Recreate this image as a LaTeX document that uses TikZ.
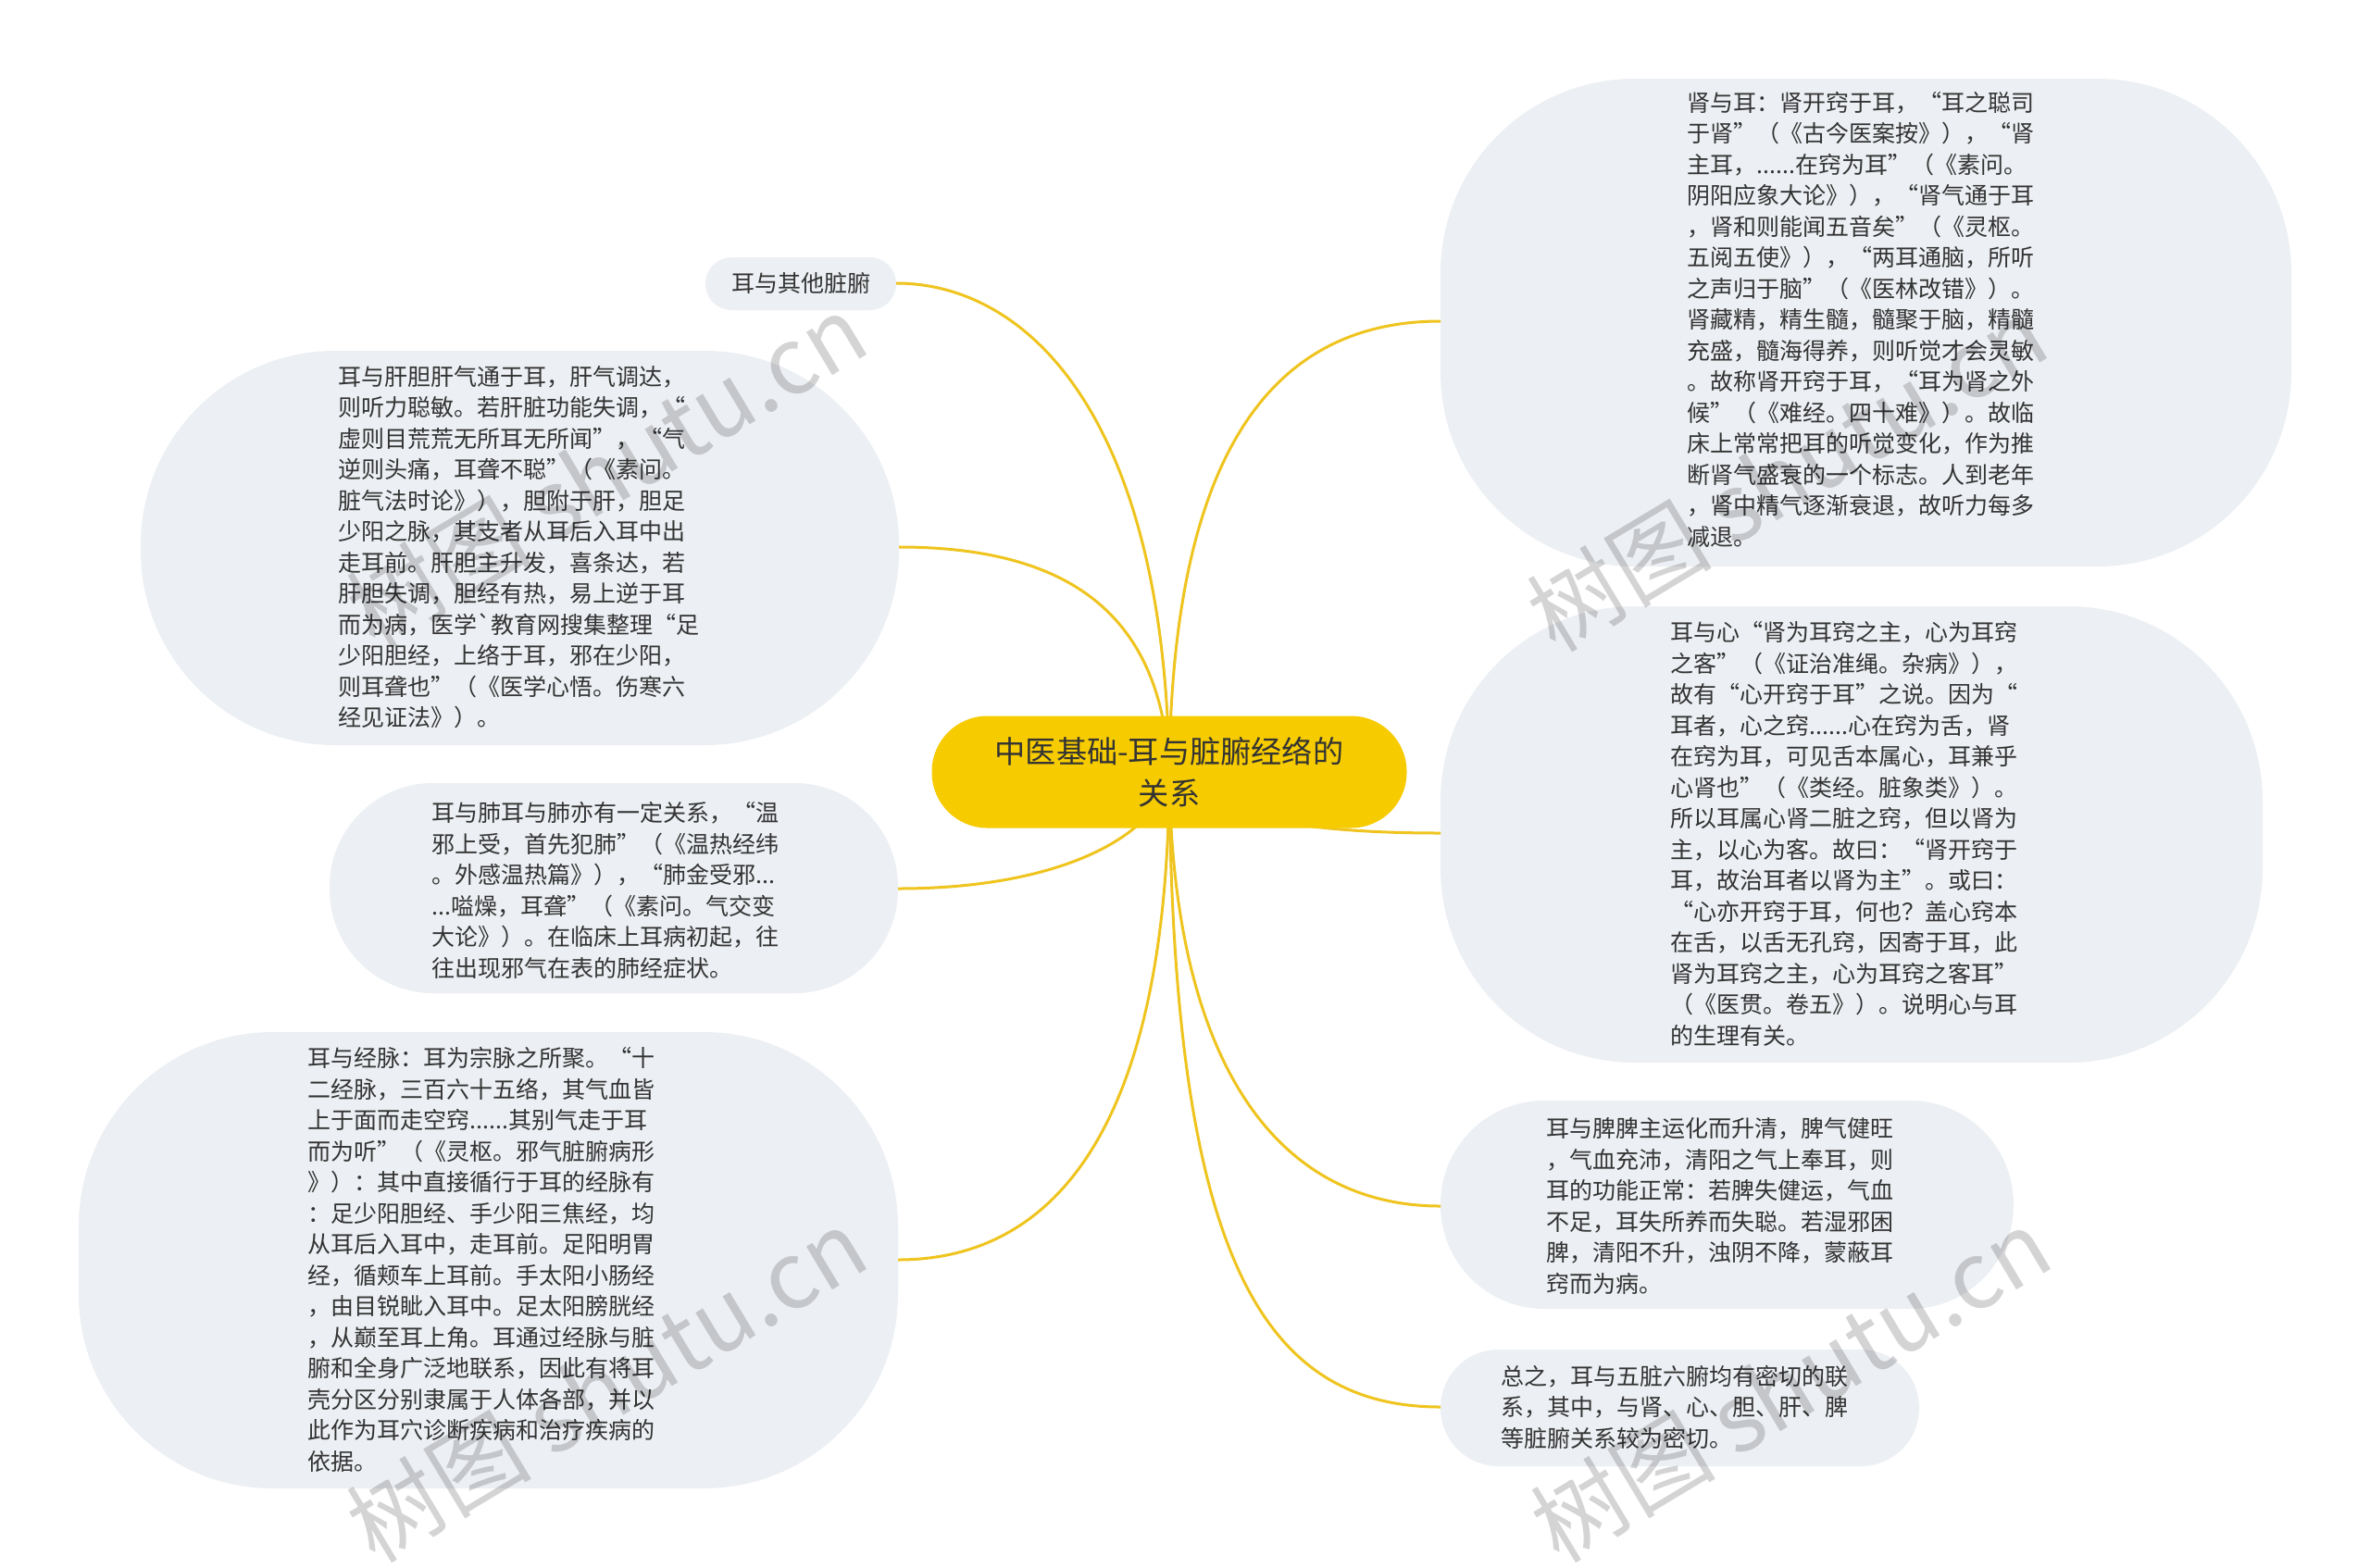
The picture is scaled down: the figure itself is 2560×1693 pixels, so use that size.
\documentclass[tikz,border=0pt]{standalone}
\usepackage{fontspec}
\newfontfamily\cjk{Noto Sans CJK SC}
\definecolor{boxgray}{HTML}{ECEFF3}
\definecolor{rootgold}{HTML}{F6CB00}
\definecolor{linkgold}{HTML}{EFC41E}
\definecolor{txtdark}{HTML}{333333}
\begin{document}
\begin{tikzpicture}[x=0.5pt,y=-0.5pt]
\tikzset{
  link/.style={draw=linkgold, line width=1.5pt},
  leaf/.style={fill=boxgray},
  txt/.style={font=\cjk\fontsize{12.5}{16.75}\selectfont, text=txtdark, align=left, inner sep=0pt, anchor=west},
  rootnode/.style={fill=rootgold, rounded corners=30pt, minimum width=256.5pt, minimum height=60.5pt, align=center, inner sep=0pt, font=\cjk\fontsize{16.6}{22.5}\selectfont, text=txtdark},
  wm/.style={font=\cjk\fontsize{50}{50}\selectfont, text=black, text opacity=0.17, rotate=31, inner sep=0pt}
}
\useasboundingbox (0,0) rectangle (2560,1693);
\fill[white] (0,0) rectangle (2560,1693);

% boxes
\fill[leaf, rounded corners=105pt] (1556,85) rectangle (2475,612);
\fill[leaf, rounded corners=105pt] (1556,655) rectangle (2444,1148);
\fill[leaf, rounded corners=56pt] (1556,1189) rectangle (2175,1414);
\fill[leaf, rounded corners=31.4pt] (1556,1458) rectangle (2073,1584);
\fill[leaf, rounded corners=14.2pt] (762,278) rectangle (968,335);
\fill[leaf, rounded corners=105pt] (152,379) rectangle (971,805);
\fill[leaf, rounded corners=56pt] (356,846) rectangle (970,1073);
\fill[leaf, rounded corners=105pt] (85,1115) rectangle (970,1608);

% connection points on box edges
\coordinate (shen-in) at (1556,347);
\coordinate (xin-in) at (1556,900);
\coordinate (pi-in) at (1556,1303);
\coordinate (zong-in) at (1556,1520);
\coordinate (qita-in) at (968,306);
\coordinate (gan-in) at (971,591);
\coordinate (fei-in) at (970,960);
\coordinate (jing-in) at (970,1361);

\coordinate (rootc) at (1263,834);
\draw[link] (rootc) .. controls (1258,450) and (1110,306) .. (qita-in);
\draw[link] (rootc) .. controls (1255,660) and (1150,591) .. (gan-in);
\draw[link] (rootc) .. controls (1255,900) and (1150,960) .. (fei-in);
\draw[link] (rootc) .. controls (1262,1200) and (1150,1361) .. (jing-in);
\draw[link] (rootc) .. controls (1266,480) and (1380,347) .. (shen-in);
\draw[link] (rootc) .. controls (1300,880) and (1400,900) .. (xin-in);
\draw[link] (rootc) .. controls (1266,1150) and (1380,1303) .. (pi-in);
\draw[link] (rootc) .. controls (1266,1350) and (1360,1520) .. (zong-in);

\node[rootnode] (root) at (1263,834) {中医基础-耳与脏腑经络的\\关系};

\node[txt] (shen) at (1822,345) {肾与耳：肾开窍于耳，“耳之聪司\\
于肾”（《古今医案按》），“肾\\
主耳，......在窍为耳”（《素问。\\
阴阳应象大论》），“肾气通于耳\\
，肾和则能闻五音矣”（《灵枢。\\
五阅五使》），“两耳通脑，所听\\
之声归于脑”（《医林改错》）。\\
肾藏精，精生髓，髓聚于脑，精髓\\
充盛，髓海得养，则听觉才会灵敏\\
。故称肾开窍于耳，“耳为肾之外\\
候”（《难经。四十难》）。故临\\
床上常常把耳的听觉变化，作为推\\
断肾气盛衰的一个标志。人到老年\\
，肾中精气逐渐衰退，故听力每多\\
减退。};

\node[txt] (xin) at (1804,901) {耳与心“肾为耳窍之主，心为耳窍\\
之客”（《证治准绳。杂病》），\\
故有“心开窍于耳”之说。因为“\\
耳者，心之窍......心在窍为舌，肾\\
在窍为耳，可见舌本属心，耳兼乎\\
心肾也”（《类经。脏象类》）。\\
所以耳属心肾二脏之窍，但以肾为\\
主，以心为客。故曰：“肾开窍于\\
耳，故治耳者以肾为主”。或曰：\\
“心亦开窍于耳，何也？盖心窍本\\
在舌，以舌无孔窍，因寄于耳，此\\
肾为耳窍之主，心为耳窍之客耳”\\
（《医贯。卷五》）。说明心与耳\\
的生理有关。};

\node[txt] (pi) at (1670,1303) {耳与脾脾主运化而升清，脾气健旺\\
，气血充沛，清阳之气上奉耳，则\\
耳的功能正常：若脾失健运，气血\\
不足，耳失所养而失聪。若湿邪困\\
脾，清阳不升，浊阴不降，蒙蔽耳\\
窍而为病。};

\node[txt] (zong) at (1621,1520) {总之，耳与五脏六腑均有密切的联\\
系，其中，与肾、心、胆、肝、脾\\
等脏腑关系较为密切。};

\node[txt, anchor=center] (qita) at (865,306) {耳与其他脏腑};

\node[txt] (gan) at (365,591) {耳与肝胆肝气通于耳，肝气调达，\\
则听力聪敏。若肝脏功能失调，“\\
虚则目荒荒无所耳无所闻”，“气\\
逆则头痛，耳聋不聪”（《素问。\\
脏气法时论》），胆附于肝，胆足\\
少阳之脉，其支者从耳后入耳中出\\
走耳前。肝胆主升发，喜条达，若\\
肝胆失调，胆经有热，易上逆于耳\\
而为病，医学`教育网搜集整理“足\\
少阳胆经，上络于耳，邪在少阳，\\
则耳聋也”（《医学心悟。伤寒六\\
经见证法》）。};

\node[txt] (fei) at (466,962) {耳与肺耳与肺亦有一定关系，“温\\
邪上受，首先犯肺”（《温热经纬\\
。外感温热篇》），“肺金受邪...\\
...嗌燥，耳聋”（《素问。气交变\\
大论》）。在临床上耳病初起，往\\
往出现邪气在表的肺经症状。};

\node[txt] (jing) at (332,1361) {耳与经脉：耳为宗脉之所聚。“十\\
二经脉，三百六十五络，其气血皆\\
上于面而走空窍......其别气走于耳\\
而为听”（《灵枢。邪气脏腑病形\\
》）：其中直接循行于耳的经脉有\\
：足少阳胆经、手少阳三焦经，均\\
从耳后入耳中，走耳前。足阳明胃\\
经，循颊车上耳前。手太阳小肠经\\
，由目锐眦入耳中。足太阳膀胱经\\
，从巅至耳上角。耳通过经脉与脏\\
腑和全身广泛地联系，因此有将耳\\
壳分区分别隶属于人体各部，并以\\
此作为耳穴诊断疾病和治疗疾病的\\
依据。};

% watermarks
\node[wm] (wm1) at (655,508) {树图 shutu.cn};
\node[wm] (wm2) at (655,1496) {树图 shutu.cn};
\node[wm] (wm3) at (1930,512) {树图 shutu.cn};
\node[wm] (wm4) at (1934,1496) {树图 shutu.cn};
\end{tikzpicture}
\end{document}
